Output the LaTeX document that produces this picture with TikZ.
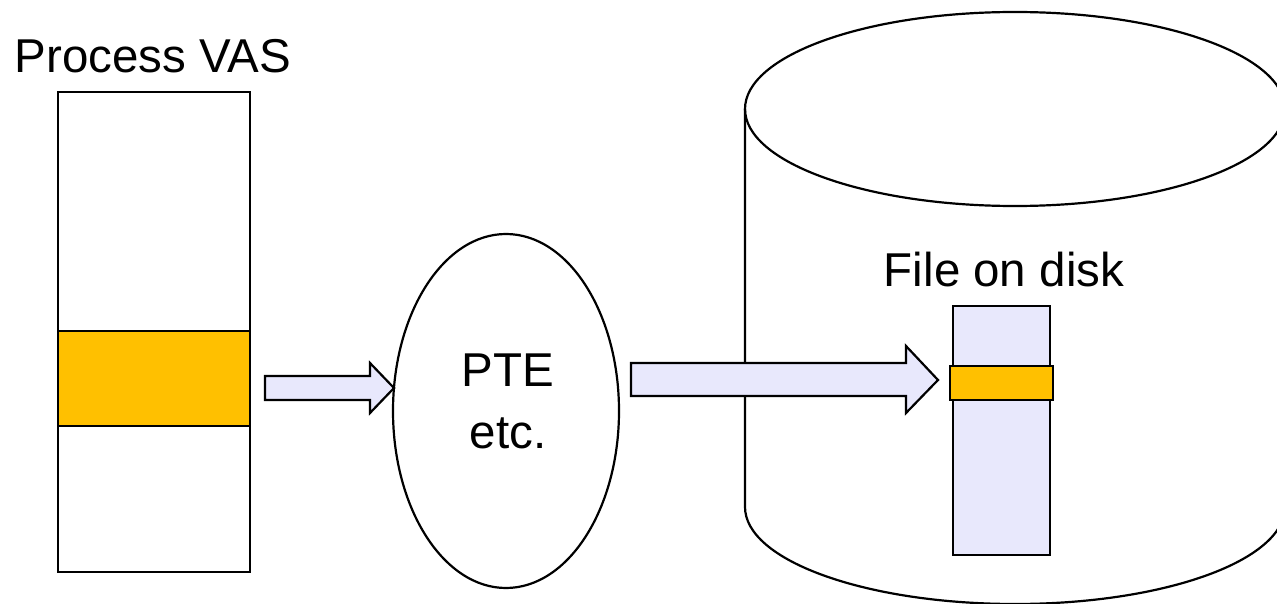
\documentclass[tikz,border=0pt]{standalone}
\usepackage{fontspec}
\setmainfont{Liberation Sans}
\usetikzlibrary{shapes.geometric}
\definecolor{gold}{HTML}{FFC000}
\definecolor{lav}{HTML}{E8E8FC}
\begin{document}
\begin{tikzpicture}[x=1pt,y=-1pt,
  outline/.style={draw=black,line width=2.2pt},
  box/.style={outline,inner sep=0pt,rectangle},
  lbl/.style={font=\fontsize{47.5}{52}\selectfont,inner sep=0pt,anchor=base},
  blockarrow/.style={outline,fill=lav,line join=miter}]
\useasboundingbox (0,0) rectangle (1277,604);
% disk cylinder
\begin{scope}
\clip (0,0) rectangle (1277,604);
\draw[outline] (745,109) -- (745,507)
  arc[start angle=180,end angle=360,x radius=270pt,y radius=97pt] -- (1285,109);
\draw[outline] (1015,109) ellipse[x radius=270pt,y radius=97pt];
\end{scope}
% process VAS
\node[lbl] (vaslbl) at (153,73) {Process VAS};
\node[box,fill=white,minimum width=192pt,minimum height=480pt] (vas) at (154,332) {};
\node[box,fill=gold,minimum width=192pt,minimum height=95pt] (vpage) at (154,378.5) {};
% PTE ellipse
\node[ellipse,outline,inner sep=0pt,minimum width=226pt,minimum height=354pt] (pte) at (506,411) {};
\node[lbl] (pte1) at (508,386) {PTE};
\node[lbl] (pte2) at (508,448) {etc.};
% file on disk
\node[lbl] (filelbl) at (1004,286) {File on disk};
\node[box,fill=lav,minimum width=97pt,minimum height=249pt] (file) at (1001.5,430.5) {};
\node[box,fill=gold,minimum width=103pt,minimum height=34pt] (fpage) at (1001.5,383) {};
% block arrows
\draw[blockarrow] (265,376) -- (370,376) -- (370,363) -- (394,388) -- (370,413) -- (370,400) -- (265,400) -- cycle;
\draw[blockarrow] (631,363) -- (906,363) -- (906,346) -- (938,380) -- (906,413) -- (906,396) -- (631,396) -- cycle;
\end{tikzpicture}
\end{document}
